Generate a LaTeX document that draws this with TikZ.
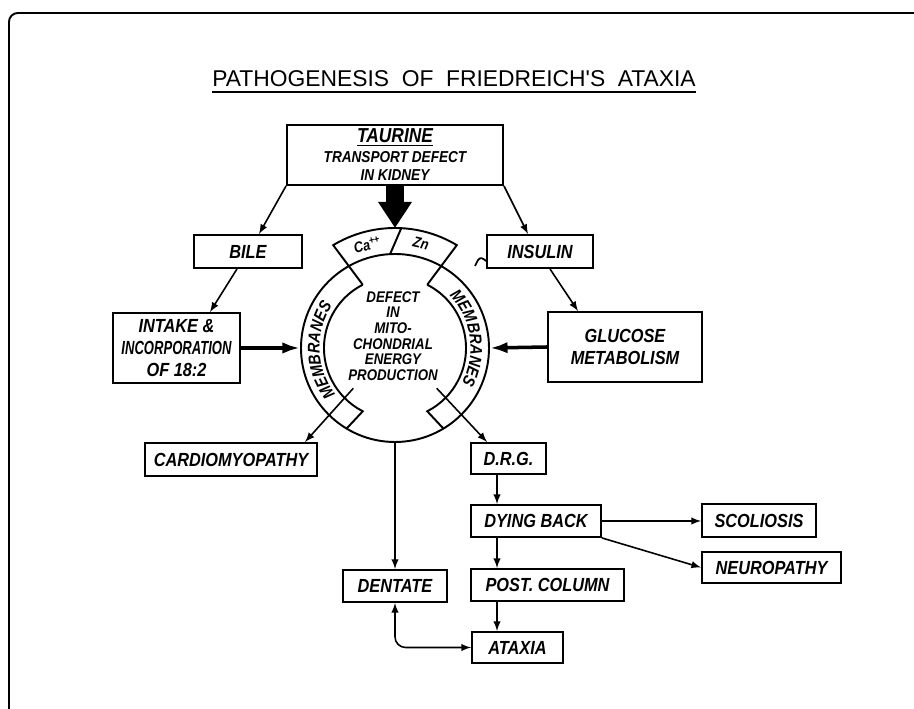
\documentclass[tikz,border=0pt]{standalone}
\usepackage{fontspec}
\newfontfamily\lettr[FakeStretch=0.86]{Liberation Sans}
\newfontfamily\headfont{Liberation Sans}
\usetikzlibrary{arrows}
\usetikzlibrary{arrows.meta}
\usetikzlibrary{calc}
\usetikzlibrary{decorations.text}

\begin{document}
\begin{tikzpicture}[
    >=latex,
    every node/.style={font=\lettr\bfseries\itshape\fontsize{10.8}{12.5}\selectfont},
    box/.style={
        draw,
        line width=1.1pt,
        inner sep=0pt,
        align=center
    },
    ring/.style={line width=1.1pt},
    arrow/.style={->, line width=0.9pt},
    heavy/.style={-{Latex[length=10pt,width=6.5pt]}, line width=2pt}
]
\useasboundingbox (0,0) rectangle (18.28,14.18);

% Frame and title
\draw[line width=1.1pt, rounded corners=5pt] (0.18,-0.5) -- (0.18,13.92) -- (18.8,13.92);
\node[anchor=base, inner sep=0pt, font=\headfont\fontsize{13}{13}\selectfont] (title) at (9.08,12.44)
    {PATHOGENESIS\hspace{0.55em}OF\hspace{0.55em}FRIEDREICH'S\hspace{0.55em}ATAXIA};
\draw[line width=1.1pt] ([yshift=-0.1cm]title.base west) -- ([yshift=-0.1cm]title.base east);

% Boxes
\node[box, minimum width=4.32cm, minimum height=1.2cm] (taurine) at (7.9,11.08)
    {\fontsize{11.5}{13}\selectfont\underline{TAURINE}\\[-1.1pt]
     \fontsize{9}{10}\selectfont TRANSPORT DEFECT\\[-2.3pt]\fontsize{9}{10}\selectfont IN KIDNEY};
\node[box, minimum width=2.16cm, minimum height=0.66cm] (bile) at (4.96,9.15) {BILE};
\node[box, minimum width=2.12cm, minimum height=0.66cm] (insulin) at (10.8,9.15) {INSULIN};
\node[box, minimum width=2.54cm, minimum height=1.4cm] (intake) at (3.53,7.22)
    {INTAKE \&\\\scalebox{0.8}[1]{INCORPORATION}\\OF 18:2};
\node[box, minimum width=3.08cm, minimum height=1.4cm] (glucose) at (12.5,7.24) {GLUCOSE\\METABOLISM};
\node[box, minimum width=3.44cm, minimum height=0.66cm] (cardio) at (4.62,4.99) {CARDIOMYOPATHY};
\node[box, minimum width=1.5cm, minimum height=0.62cm] (drg) at (10.17,5.01) {D.R.G.};
\node[box, minimum width=2.6cm, minimum height=0.64cm] (dying) at (10.72,3.76) {DYING BACK};
\node[box, minimum width=2.28cm, minimum height=0.66cm] (scoliosis) at (15.18,3.77) {SCOLIOSIS};
\node[box, minimum width=2.78cm, minimum height=0.62cm] (neuropathy) at (15.43,2.83) {NEUROPATHY};
\node[box, minimum width=2.08cm, minimum height=0.64cm] (dentate) at (7.9,2.46) {DENTATE};
\node[box, minimum width=3.06cm, minimum height=0.64cm] (post) at (10.95,2.48) {POST. COLUMN};
\node[box, minimum width=1.82cm, minimum height=0.62cm] (ataxia) at (10.35,1.23) {ATAXIA};

% Mitochondrion
\node[draw, circle, ring, minimum size=3.76cm, inner sep=0pt] (mito) at (7.9,7.22) {};
\node[align=center, inner sep=0pt, font=\lettr\bfseries\itshape\fontsize{8.8}{8.9}\selectfont] (defect) at (7.86,7.46)
    {DEFECT\\IN\\MITO-\\CHONDRIAL\\ENERGY\\PRODUCTION};
\begin{scope}[shift={(mito.center)}, ring]
    \draw (117:1.42) arc[start angle=117, end angle=243, radius=1.42] -- (239:1.88);
    \draw (63:1.42) arc[start angle=63, end angle=-63, radius=1.42] -- (301:1.88);
    \draw (117:1.42) -- (121:2.4) arc[start angle=121, end angle=59, radius=2.4] -- (63:1.42);
    \draw (93:1.88) -- (87:2.4);
    \node[rotate=15, inner sep=0pt, font=\lettr\bfseries\itshape\fontsize{8.5}{9}\selectfont] (ca) at (105:2.14) {Ca\textsuperscript{++}};
    \node[rotate=-13, inner sep=0pt, font=\lettr\bfseries\itshape\fontsize{8.5}{9}\selectfont] (zn) at (76:2.15) {Zn};
    \path[decorate, decoration={text along path, text align=center,
        text={|\lettr\bfseries\itshape\fontsize{9.6}{9.6}\selectfont|MEMBRANES}}]
        (219:1.51) arc[start angle=219, end angle=145, radius=1.51];
    \path[decorate, decoration={text along path, text align=center,
        text={|\lettr\bfseries\itshape\fontsize{9.6}{9.6}\selectfont|MEMBRANES}}]
        (45:1.51) arc[start angle=45, end angle=-29, radius=1.51];
    \coordinate (catop) at (90:2.4);
    \coordinate (cardstart) at (224:1.16);
    \coordinate (drgstart) at (316:1.16);
\end{scope}
\coordinate (spine) at (9.94,0);

% Arrows
\draw[line width=0.36cm, -{Triangle[width=0.64cm,length=0.52cm]}] (taurine.south) -- (catop);
\draw[arrow] (taurine.south west) -- ([xshift=0.22cm]bile.north);
\draw[arrow] (taurine.south east) -- ([xshift=-0.24cm]insulin.north);
\draw[arrow] ([xshift=-0.22cm]bile.south) -- ([xshift=0.67cm]intake.north);
\draw[arrow] ([xshift=0.2cm]insulin.south) -- ([xshift=-0.94cm]glucose.north);
\draw[heavy] (intake.east) -- (mito.west);
\draw[heavy] (glucose.west) -- (mito.east);
\draw[arrow] (cardstart) -- ([xshift=1.48cm]cardio.north);
\draw[arrow] (drgstart) -- ([xshift=-0.43cm]drg.north);
\draw[arrow] (mito.south) -- (dentate.north);
\draw[arrow] (spine |- drg.south) -- (spine |- dying.north);
\draw[arrow] (spine |- dying.south) -- (spine |- post.north);
\draw[arrow] (spine |- post.south) -- (spine |- ataxia.north);
\draw[arrow] (dying.east) -- (dying.east -| scoliosis.west);
\draw[arrow] (dying.south east) -- (neuropathy.west);
\draw[arrow, <->, rounded corners=6pt] (dentate.south) |- (ataxia.west);

% stray mark by INSULIN
\draw[line width=1pt] (9.5,8.86) -- (9.56,8.98) .. controls (9.6,9.04) and (9.66,9.02) .. (9.72,8.96);

\end{tikzpicture}
\end{document}
